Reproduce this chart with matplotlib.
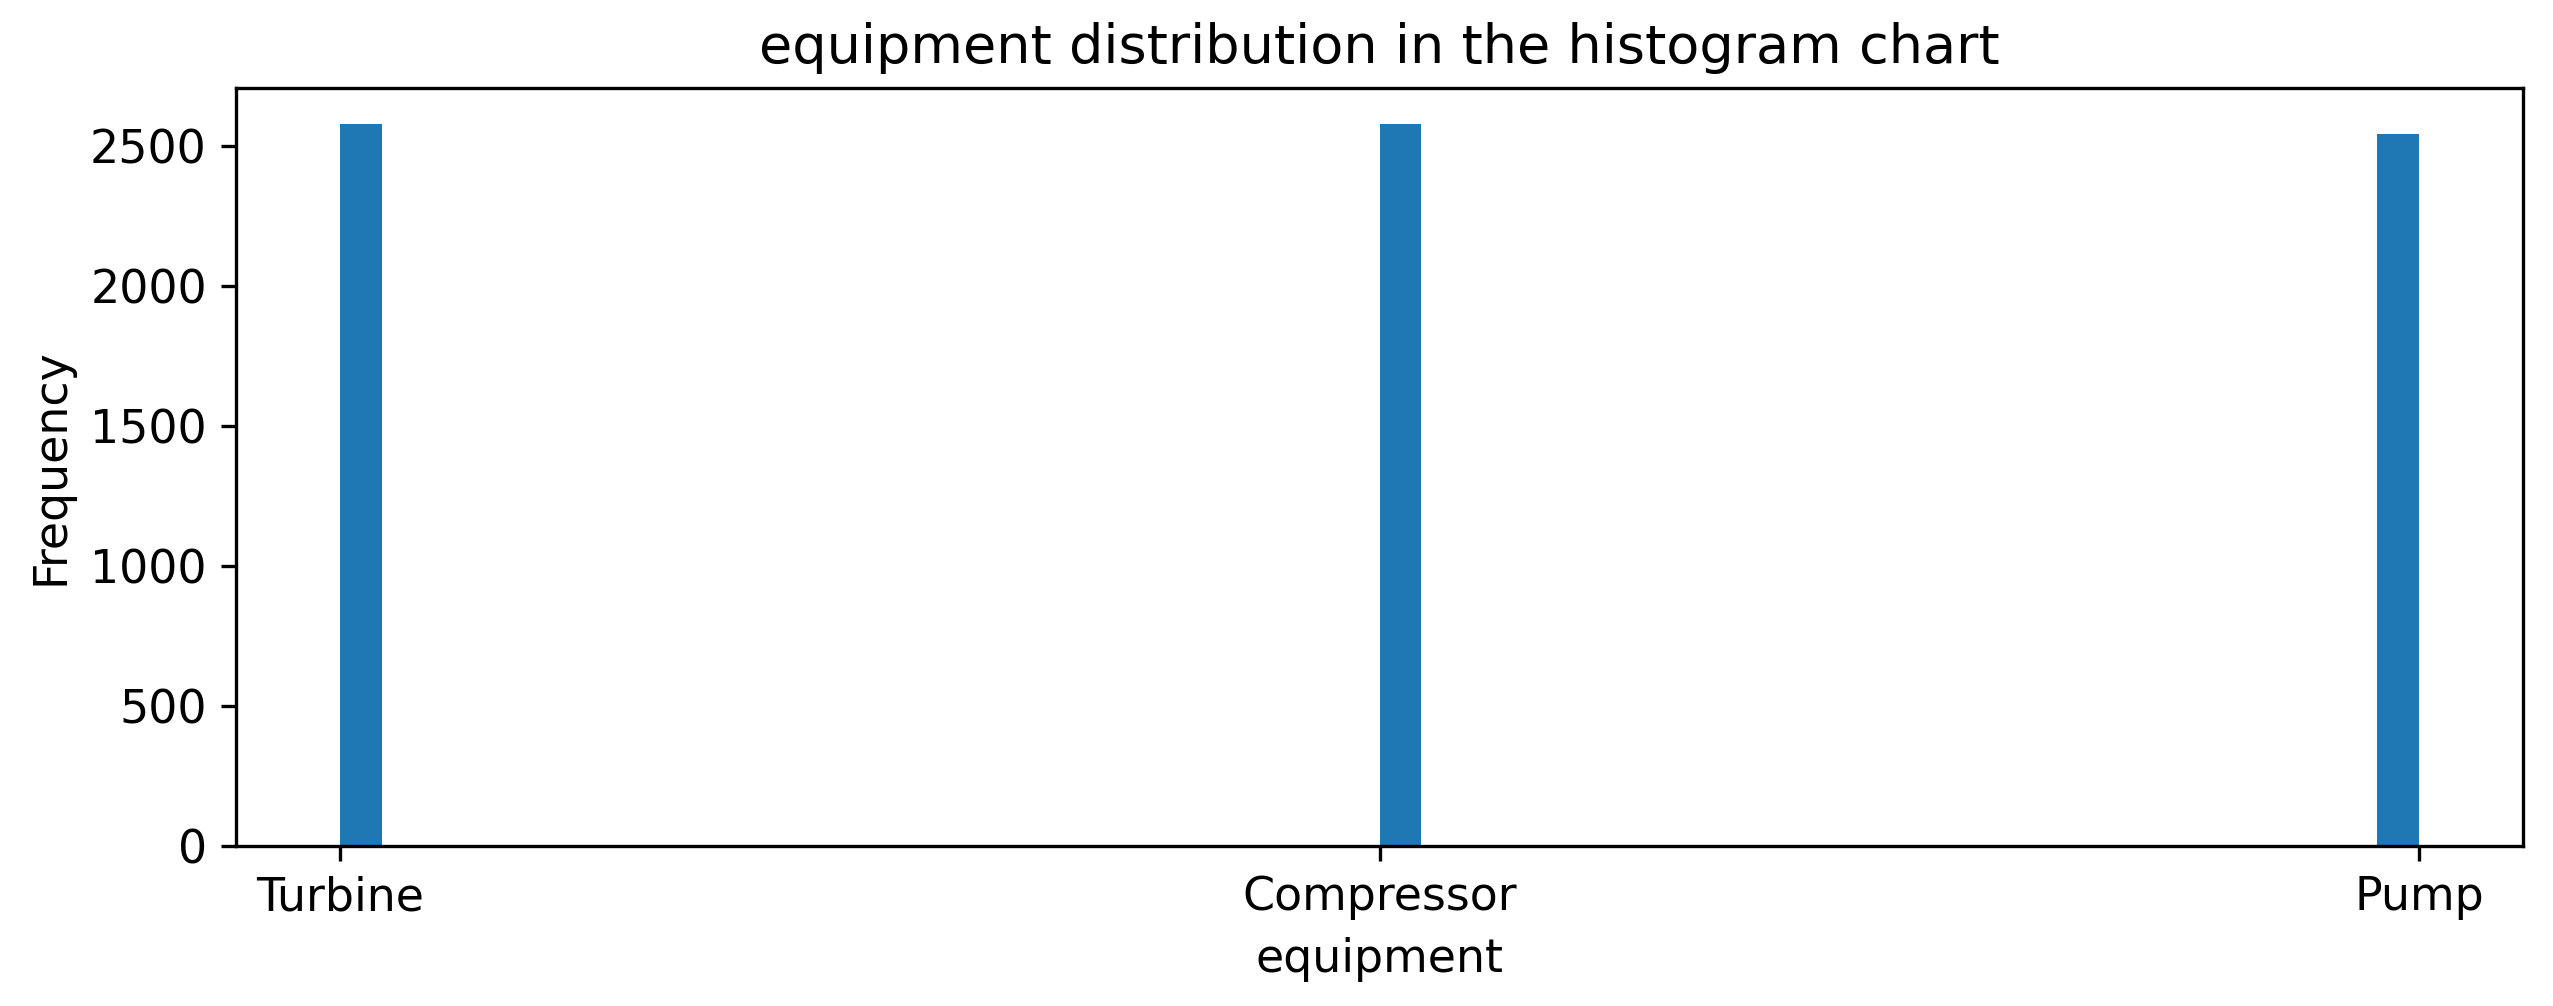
import matplotlib
matplotlib.use('Agg')
import matplotlib.pyplot as plt
import numpy as np

# 各设备出现次数
categories = ['Turbine', 'Compressor', 'Pump']
counts = [2577, 2577, 2543]

plt.rcParams['font.family'] = ['DejaVu Sans']
plt.rcParams['font.size'] = 11

fig, ax = plt.subplots(figsize=(2553 / 300, 1006 / 300), dpi=300)
fig.subplots_adjust(left=236 / 2553, right=2523 / 2553,
                    bottom=1 - 846 / 1006, top=1 - 88 / 1006)

pos = np.arange(len(categories))
ax.hist(pos, bins=50, weights=counts, color='#1f77b4')

ax.set_xticks(pos)
ax.set_xticklabels(categories)
ax.set_title('equipment distribution in the histogram chart', fontsize=13)
ax.set_xlabel('equipment')
ax.set_ylabel('Frequency')

fig.savefig('out.png', dpi=300)
